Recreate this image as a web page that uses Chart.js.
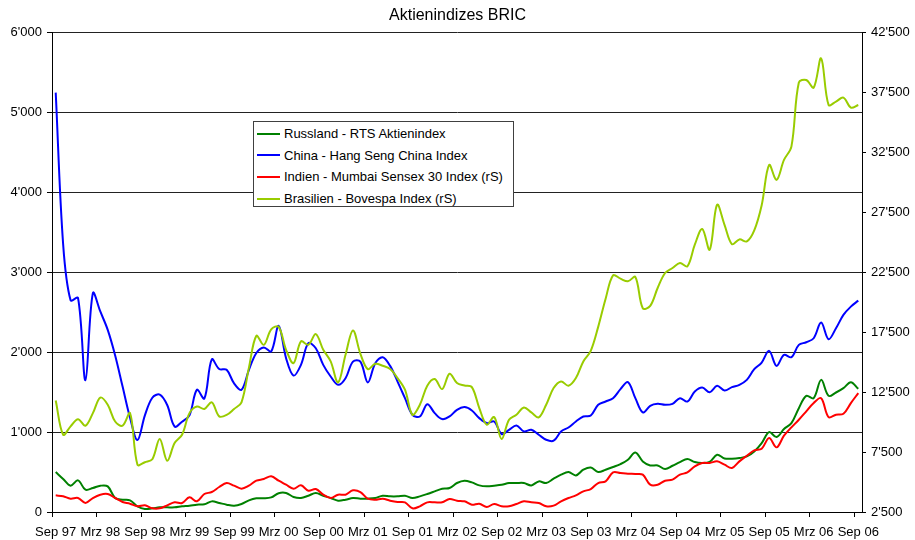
<!DOCTYPE html>
<html>
<head>
<meta charset="utf-8">
<script src="https://cdn.jsdelivr.net/npm/chart.js@4/dist/chart.umd.min.js"></script>
<style>
  html, body { margin: 0; padding: 0; background: #fff; }
  #wrap { position: relative; width: 915px; height: 540px; }
  #legend { position: absolute; left: 253px; top: 121px; width: 261px; height: 86px;
            border: 1px solid #404040; background: #fff; box-sizing: border-box;
            font-family: "Liberation Sans", Arial, sans-serif; font-size: 13px; color: #000; }
  .item { position: absolute; left: 3px; height: 16px; line-height: 16px; white-space: nowrap; }
  .item span.sw { display: inline-block; width: 23px; height: 2px; vertical-align: middle; margin-right: 4px; position: relative; top: -1px; }
</style>
</head>
<body>
<div id="wrap">
  <canvas id="c" width="915" height="540"></canvas>
  <div id="legend"></div>
</div>
<script>
// ---- categories (monthly, Sep 97 .. Sep 06) ----
const monthNames = ['Jan','Feb','Mrz','Apr','Mai','Jun','Jul','Aug','Sep','Okt','Nov','Dez'];
const startYear = 1997, startMonth = 8, monthCount = 109;
const categories = [];
for (let i = 0; i < monthCount; i++) {
  const m = (startMonth + i) % 12;
  const y = startYear + Math.floor((startMonth + i) / 12);
  categories.push(monthNames[m] + ' ' + String(y % 100).padStart(2, '0'));
}

// ---- series ----
const russland = [
  500,413,329,396,279,300,329,321,175,154,146,71,38,46,58,58,58,71,79,92,
  96,133,113,92,79,100,146,171,171,183,235,238,188,175,204,238,204,175,142,154,
  175,167,167,175,204,196,196,204,175,196,225,258,292,300,363,392,371,333,321,329,
  340,363,363,363,333,383,363,417,467,500,458,529,558,500,529,563,600,654,746,633,
  583,583,538,579,625,663,625,613,627,717,670,667,675,696,758,863,1000,938,1038,1113,
  1300,1454,1425,1654,1454,1496,1550,1625,1542
];
const china = [
  5250,3350,2650,2680,1650,2740,2510,2280,1960,1570,1180,900,1210,1430,1470,1340,1070,1130,1210,1530,
  1420,1910,1790,1780,1610,1530,1780,1990,2060,2010,2330,1925,1708,1842,2113,2050,1842,1696,1592,1675,
  1883,1883,1621,1862,1938,1829,1633,1425,1217,1196,1350,1238,1163,1196,1279,1313,1271,1175,1113,1133,
  975,1029,1083,1008,1029,967,904,892,1008,1058,1133,1196,1208,1342,1383,1425,1538,1625,1425,1246,
  1329,1354,1342,1354,1425,1383,1508,1558,1500,1579,1521,1563,1592,1654,1788,1871,2017,1829,1967,1938,
  2092,2125,2175,2371,2163,2300,2467,2571,2646
];
const indien = [
  3890,3807,3612,3668,3251,3668,3946,4001,3668,3334,3195,2973,3056,2806,2806,3056,3306,3251,3723,3390,
  4001,4168,4585,4919,4696,4446,4696,5113,5252,5475,5113,4780,4446,4724,4279,4418,3946,3668,3946,3946,
  4307,4168,3612,3529,3612,3445,3334,3306,2806,2973,3306,3306,3306,3584,3445,3390,3112,3195,2917,3167,
  2973,2973,3167,3390,3306,3251,2973,3028,3390,3668,3890,4224,4418,4919,5058,5808,5753,5697,5669,5614,
  4780,4780,5113,5197,5614,5808,6309,6587,6587,6726,6448,6170,6726,7199,7643,7782,8672,7894,8866,9561,
  10201,10900,11600,12000,10423,10618,10701,11591,12425
];
const brasilien = [
  11800,8950,9650,10250,9700,10750,12050,11450,10050,9700,10750,6450,6650,6900,8600,6780,8250,8950,10750,11300,
  11100,11650,10480,10600,11100,11650,14550,17200,16450,17750,17950,16039,14927,16734,16456,17345,16039,15066,13314,15622,
  17651,15705,14426,14871,14704,14426,13676,12703,10618,11452,13036,13592,12758,14037,13259,13064,12925,11174,9784,10423,
  8588,10201,10618,11229,10812,10395,11452,12842,13398,13036,13676,15066,15950,17950,20300,22250,21972,21749,22111,19500,
  19700,21193,22444,22861,23278,23000,24807,26114,24390,28143,26470,24850,25250,25080,26000,28100,31467,30216,31884,32996,
  38350,38556,37917,40363,36471,36749,37083,36249,36471
];

// ---- tick values ----
const leftTicks = [0, 1000, 2000, 3000, 4000, 5000, 6000];
const rightTicks = [2500, 7500, 12500, 17500, 22500, 27500, 32500, 37500, 42500];
const labelStep = 6;

const seriesNames = ['Russland - RTS Aktienindex', 'China - Hang Seng China Index',
                     'Indien - Mumbai Sensex 30 Index (rS)', 'Brasilien - Bovespa Index (rS)'];
const seriesColors = ['#008000', '#0000FF', '#FF0000', '#99CC00'];

const fmt = v => String(v).replace(/\B(?=(\d{3})+(?!\d))/g, "'");
const FONT = '"Liberation Sans", Arial, sans-serif';

const mk = (name, data, color, axis, order) => ({
  label: name, data: data, borderColor: color, backgroundColor: color,
  borderWidth: 2, pointRadius: 0, tension: 0.35, yAxisID: axis, order: order, fill: false
});

const chart = new Chart(document.getElementById('c'), {
  type: 'line',
  data: {
    labels: categories,
    datasets: [
      mk(seriesNames[0], russland, seriesColors[0], 'y', 4),
      mk(seriesNames[1], china, seriesColors[1], 'y', 3),
      mk(seriesNames[2], indien, seriesColors[2], 'y1', 2),
      mk(seriesNames[3], brasilien, seriesColors[3], 'y1', 1)
    ]
  },
  options: {
    responsive: false,
    animation: false,
    devicePixelRatio: 1,
    layout: { padding: 0 },
    plugins: {
      legend: { display: false },
      tooltip: { enabled: false },
      title: {
        display: true, text: 'Aktienindizes BRIC', color: '#000',
        font: { family: FONT, size: 16, weight: 'normal' },
        padding: { top: 6, bottom: 7.5 }
      }
    },
    scales: {
      x: {
        type: 'category',
        offset: true,
        afterFit: s => { s.height = 28; },
        grid: {
          offset: true, drawOnChartArea: false, drawTicks: true, tickLength: 5,
          tickColor: ctx => (ctx.index !== undefined && ctx.index % labelStep === 0) ? '#000' : 'rgba(0,0,0,0)'
        },
        border: { display: true, color: '#000', width: 1 },
        ticks: {
          autoSkip: false, maxRotation: 0, minRotation: 0, padding: 8, color: '#000',
          font: { family: FONT, size: 13 },
          callback: function (v, i) { return i % labelStep === 0 ? this.getLabelForValue(v) : ''; }
        }
      },
      y: {
        type: 'linear', position: 'left', min: 0, max: 6000,
        afterFit: s => { s.width = 52; },
        afterBuildTicks: s => { s.ticks = leftTicks.map(v => ({ value: v })); },
        grid: { color: '#222', lineWidth: 1, drawTicks: true, tickLength: 5, tickColor: '#000' },
        border: { display: true, color: '#000', width: 1 },
        ticks: { padding: 5, color: '#000', font: { family: FONT, size: 13 }, callback: v => fmt(v) }
      },
      y1: {
        type: 'linear', position: 'right', min: 2500, max: 42500,
        afterFit: s => { s.width = 53; },
        afterBuildTicks: s => { s.ticks = rightTicks.map(v => ({ value: v })); },
        grid: { drawOnChartArea: false, drawTicks: true, tickLength: 4, tickColor: '#000' },
        border: { display: true, color: '#000', width: 1 },
        ticks: { padding: 5, color: '#000', font: { family: FONT, size: 13 }, callback: v => fmt(v) }
      }
    }
  }
});

// ---- HTML legend (inside the plot, as in the reference) ----
const legend = document.getElementById('legend');
seriesNames.forEach((name, i) => {
  const d = document.createElement('div');
  d.className = 'item';
  d.style.top = (4 + i * 21.7) + 'px';
  const sw = document.createElement('span');
  sw.className = 'sw';
  sw.style.background = seriesColors[i];
  d.appendChild(sw);
  d.appendChild(document.createTextNode(name));
  legend.appendChild(d);
});
</script>
</body>
</html>
